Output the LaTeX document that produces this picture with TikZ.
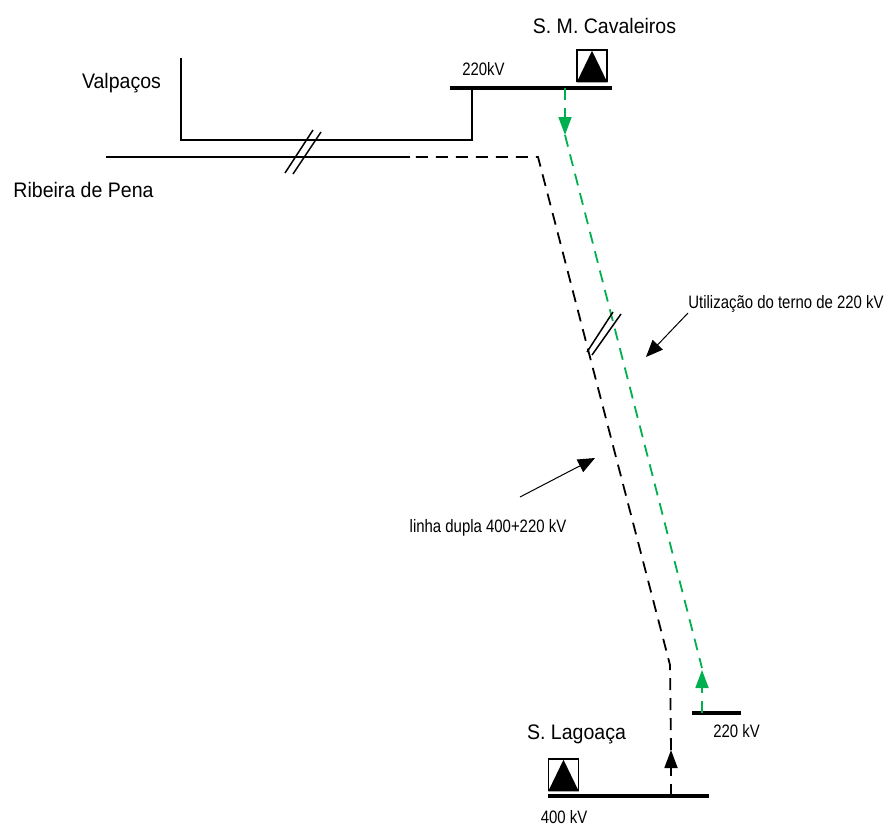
\documentclass[tikz,border=0pt]{standalone}
\usepackage{fontspec}
\setmainfont{Liberation Sans}
\newfontfamily\bigf[FakeStretch=0.93]{Liberation Sans}
\newfontfamily\smallf[FakeStretch=0.83]{Liberation Sans}
\usetikzlibrary{arrows.meta}
\definecolor{lgreen}{RGB}{0,176,80}
\begin{document}
\begin{tikzpicture}[x=1pt,y=-1pt,
  bigtxt/.style={font=\bigf\fontsize{21}{24}\selectfont, anchor=base, inner sep=0pt},
  smalltxt/.style={font=\smallf\fontsize{18}{20}\selectfont, anchor=base, inner sep=0pt},
  wire/.style={line width=1.8pt, line join=miter},
  bus/.style={line width=3.5pt},
  dsh/.style={line width=1.8pt, dash pattern=on 12pt off 8pt},
  grn/.style={dsh, draw=lgreen},
  uptip/.style={-{Triangle[length=18pt,width=13pt]}},
  notetip/.style={line width=1pt, -{Triangle[length=17pt,width=14pt]}},
  slash/.style={line width=1.5pt},
  sym/.style={draw, line width=1.5pt, minimum width=30pt, minimum height=31pt, inner sep=0pt}]
\useasboundingbox (0,0) rectangle (891,830);

% --- texts
\node[bigtxt] (smc) at (604.5,33) {S. M. Cavaleiros};
\node[bigtxt] (valp) at (121.5,88) {Valpaços};
\node[bigtxt] (rib) at (83.5,197) {Ribeira de Pena};
\node[bigtxt] (lag) at (576.5,739) {S. Lagoaça};
\node[smalltxt] (kv1) at (483.5,75) {220kV};
\node[smalltxt] (kv2) at (736.5,737) {220 kV};
\node[smalltxt] (kv3) at (564,823) {400 kV};
\node[smalltxt] (ut) at (786,308) {Utilização do terno de 220 kV};
\node[smalltxt] (ld) at (488,532) {linha dupla 400+220 kV};

% --- substation symbols
\node[sym] (s1) at (592,65.5) {};
\fill ([xshift=0.5pt,yshift=-0.5pt]s1.south west) -- ([yshift=-1.5pt]s1.north) -- ([xshift=-0.5pt,yshift=-0.5pt]s1.south east) -- cycle;
\node[sym] (s2) at (563.5,774.5) {};
\fill ([xshift=0.5pt,yshift=-0.5pt]s2.south west) -- ([yshift=-1.5pt]s2.north) -- ([xshift=-0.5pt,yshift=-0.5pt]s2.south east) -- cycle;

% --- buses
\coordinate (b1w) at (450,88);  \coordinate (b1e) at (612,88);
\coordinate (b2w) at (692,713); \coordinate (b2e) at (741,713);
\coordinate (b3w) at (548,796); \coordinate (b3e) at (709,796);
\draw[bus] (b1w) -- (b1e);
\draw[bus] (b2w) -- (b2e);
\draw[bus] (b3w) -- (b3e);

% --- Valpacos line
\coordinate (v1) at (472,88);
\coordinate (v2) at (472,140);
\coordinate (v3) at (181,140);
\coordinate (v4) at (181,58);
\draw[wire] (v1) -- (v2) -- (v3) -- (v4);

% --- Ribeira de Pena line (solid part)
\coordinate (r0) at (106,157);
\coordinate (r1) at (410,157);
\draw[wire] (r0) -- (r1);

% --- double line 400 kV (black dashed)
\coordinate (k0) at (671,796);
\coordinate (k1) at (671,750);
\coordinate (k2) at (670,665);
\coordinate (k3) at (538,157);
\draw[dsh, uptip] (k0) -- (k1);
\draw[dsh] (k1) -- (k2) -- (k3) -- (r1);

% --- 220 kV circuit (green dashed)
\coordinate (g0) at (565,88);
\coordinate (g1) at (565,135);
\coordinate (g2) at (702,668);
\coordinate (g3) at (702,713);
\coordinate (g4) at (702,670);
\draw[grn, uptip] (g0) -- (g1);
\draw[grn] (g1) -- (g2);
\draw[grn, uptip] (g3) -- (g4);

% --- double slashes
\coordinate (d1a) at (285,173); \coordinate (d1b) at (313,130);
\coordinate (d2a) at (293,174); \coordinate (d2b) at (321,132);
\draw[slash] (d1a) -- (d1b);
\draw[slash] (d2a) -- (d2b);
\coordinate (d3a) at (587,352); \coordinate (d3b) at (613,312);
\coordinate (d4a) at (592,355); \coordinate (d4b) at (621,314);
\draw[slash] (d3a) -- (d3b);
\draw[slash] (d4a) -- (d4b);

% --- annotation arrows
\coordinate (ua) at (688,313); \coordinate (ub) at (646,357);
\draw[notetip] (ua) -- (ub);
\coordinate (la) at (520,497); \coordinate (lb) at (595,458);
\draw[notetip] (la) -- (lb);
\end{tikzpicture}
\end{document}
